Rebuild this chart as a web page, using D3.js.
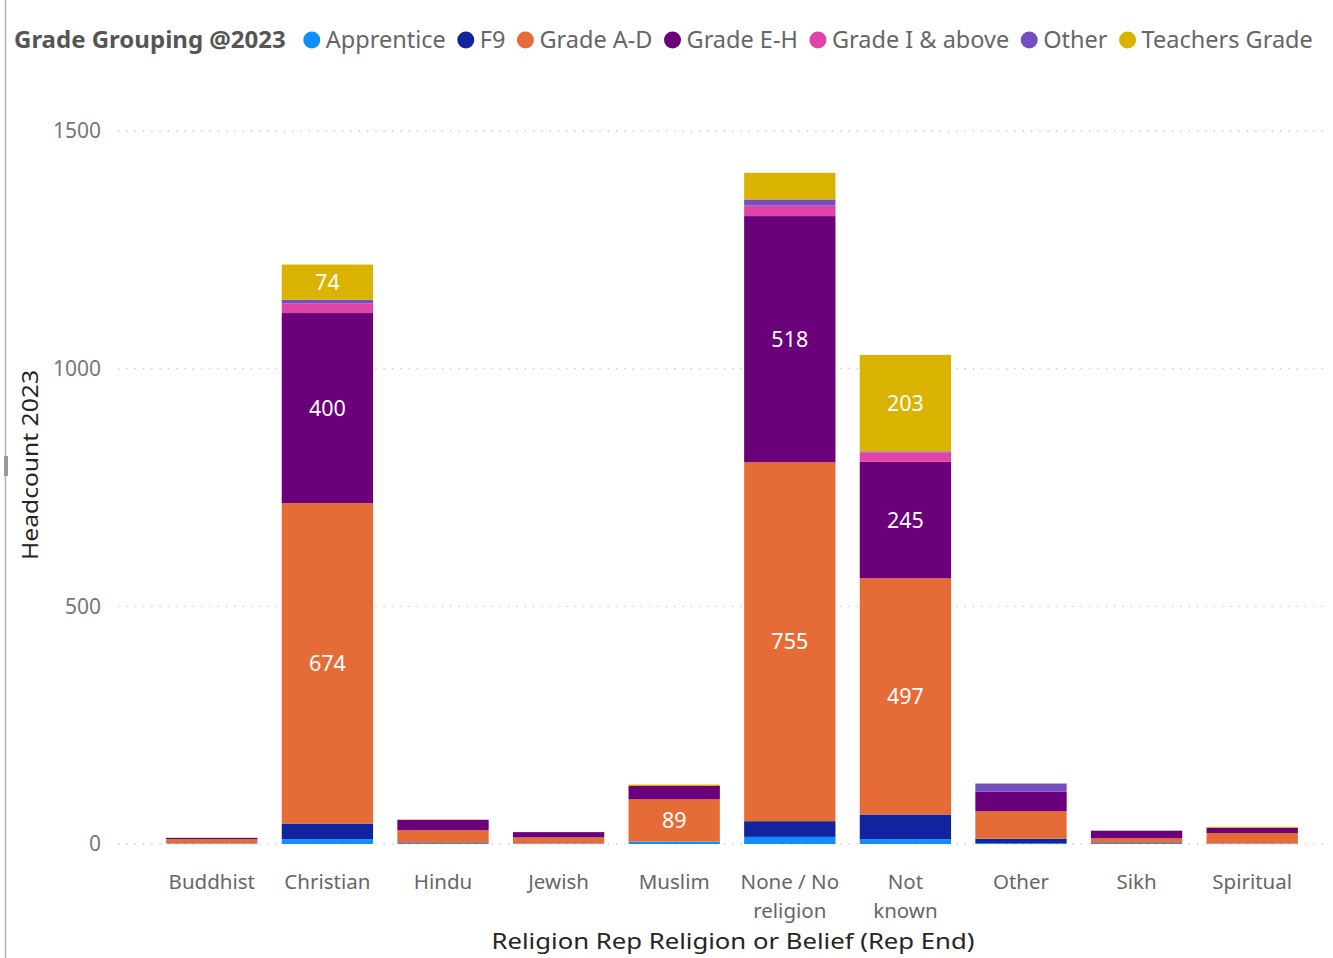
<!DOCTYPE html>
<html>
<head>
<meta charset="utf-8">
<script src="https://cdn.jsdelivr.net/npm/d3@7"></script>
<style>
  body { margin: 0; background: #fff; }
  text { font-family: "Segoe UI", "Noto Sans", sans-serif; }
</style>
</head>
<body>
<svg id="chart" width="1333" height="958"></svg>
<script>
// categories along the x axis
var religions = ["Buddhist", "Christian", "Hindu", "Jewish", "Muslim", "None / No religion", "Not known", "Other", "Sikh", "Spiritual"];
var religion_lines = [["Buddhist"], ["Christian"], ["Hindu"], ["Jewish"], ["Muslim"], ["None / No", "religion"], ["Not", "known"], ["Other"], ["Sikh"], ["Spiritual"]];

// series (stack order, bottom to top)
var grades = ["Apprentice", "F9", "Grade A-D", "Grade E-H", "Grade I & above", "Other", "Teachers Grade"];
var grade_colors = ["#118DFF", "#12239E", "#E66C37", "#6B007B", "#E044A7", "#744EC2", "#D9B300"];

// values per grade, one per religion
var apprentice = [1, 10, 2, 1, 5, 15, 10, 2, 2, 1];
var f9         = [0, 33, 0, 0, 0, 33, 52, 9, 0, 0];
var grade_ad   = [9, 674, 27, 13, 89, 755, 497, 58, 10, 22];
var grade_eh   = [3, 400, 22, 11, 28, 518, 245, 41, 16, 11];
var grade_i    = [0, 20, 0, 0, 0, 22, 20, 0, 0, 0];
var other      = [0, 8, 0, 0, 0, 13, 2, 17, 0, 0];
var teachers   = [0, 74, 0, 0, 3, 56, 203, 1, 0, 2];

var y_ticks = [0, 500, 1000, 1500];

var series_values = [apprentice, f9, grade_ad, grade_eh, grade_i, other, teachers];

var rows = religions.map(function(r, i) {
    var row = {religion: r, idx: i};
    grades.forEach(function(g, j) { row[g] = series_values[j][i]; });
    return row;
});

var svg = d3.select("#chart");

var x_scale = d3.scaleBand().domain(religions).range([154, 1310]).paddingInner(0.21).paddingOuter(0.105);
var y_scale = d3.scaleLinear().domain([0, 1500]).range([844, 131]);
var color_scale = d3.scaleOrdinal().domain(grades).range(grade_colors);

// left frame line
svg.append("line")
    .attr("x1", 5.5).attr("x2", 5.5).attr("y1", 0).attr("y2", 958)
    .attr("stroke", "#b3b3b3").attr("stroke-width", 1.5);
svg.append("rect")
    .attr("x", 4).attr("y", 456).attr("width", 4).attr("height", 20)
    .attr("fill", "#999");

// gridlines
svg.append("g")
    .selectAll("line")
    .data(y_ticks)
    .enter()
    .append("line")
    .attr("x1", 118).attr("x2", 1326)
    .attr("y1", function(d) { return y_scale(d); })
    .attr("y2", function(d) { return y_scale(d); })
    .attr("stroke", "#c8c8c8")
    .attr("stroke-width", 1.3)
    .attr("stroke-dasharray", "1.3,7");

// y tick labels
svg.append("g")
    .selectAll("text")
    .data(y_ticks)
    .enter()
    .append("text")
    .attr("x", 101)
    .attr("y", function(d) { return y_scale(d); })
    .attr("dy", "0.35em")
    .attr("text-anchor", "end")
    .attr("fill", "#777")
    .style("font-size", "21px")
    .text(function(d) { return d; });

// stacked bars
var stacked = d3.stack().keys(grades)(rows);

var layers = svg.append("g")
    .selectAll("g")
    .data(stacked)
    .enter()
    .append("g")
    .attr("fill", function(d) { return color_scale(d.key); });

layers.selectAll("rect")
    .data(function(d) { return d; })
    .enter()
    .append("rect")
    .attr("x", function(d) { return x_scale(d.data.religion); })
    .attr("y", function(d) { return y_scale(d[1]); })
    .attr("width", x_scale.bandwidth())
    .attr("height", function(d) { return Math.max(0, y_scale(d[0]) - y_scale(d[1])); });

// data labels for segments tall enough
var label_data = [];
stacked.forEach(function(layer) {
    layer.forEach(function(d) {
        var h = y_scale(d[0]) - y_scale(d[1]);
        if (h >= 30) label_data.push(d);
    });
});

svg.append("g")
    .selectAll("text")
    .data(label_data)
    .enter()
    .append("text")
    .attr("x", function(d) { return x_scale(d.data.religion) + x_scale.bandwidth() / 2; })
    .attr("y", function(d) { return (y_scale(d[0]) + y_scale(d[1])) / 2; })
    .attr("dy", "0.35em")
    .attr("text-anchor", "middle")
    .attr("fill", "#fff")
    .style("font-size", "21.5px")
    .text(function(d) { return d[1] - d[0]; });

// x category labels
var cat_labels = svg.append("g")
    .selectAll("text")
    .data(religions)
    .enter()
    .append("text")
    .attr("x", function(d) { return x_scale(d) + x_scale.bandwidth() / 2; })
    .attr("y", 882)
    .attr("text-anchor", "middle")
    .attr("fill", "#666")
    .style("font-size", "20.5px");

cat_labels.each(function(d, i) {
    var el = d3.select(this);
    religion_lines[i].forEach(function(line, k) {
        el.append("tspan")
            .attr("x", x_scale(d) + x_scale.bandwidth() / 2)
            .attr("y", 882 + k * 29)
            .attr("dy", "0.35em")
            .text(line);
    });
});

// axis titles (wider DIN-like face in the original, so pin the length)
svg.append("text")
    .attr("x", 733)
    .attr("y", 941)
    .attr("dy", "0.35em")
    .attr("text-anchor", "middle")
    .attr("fill", "#252423")
    .attr("textLength", 483)
    .attr("lengthAdjust", "spacingAndGlyphs")
    .style("font-size", "22px")
    .text("Religion Rep Religion or Belief (Rep End)");

svg.append("text")
    .attr("transform", "translate(30,465) rotate(-90)")
    .attr("dy", "0.35em")
    .attr("text-anchor", "middle")
    .attr("fill", "#252423")
    .attr("textLength", 190)
    .attr("lengthAdjust", "spacingAndGlyphs")
    .style("font-size", "22px")
    .text("Headcount 2023");

// legend
var legend = svg.append("g");
var legend_title = legend.append("text")
    .attr("x", 14)
    .attr("y", 40)
    .attr("dy", "0.35em")
    .attr("fill", "#555")
    .style("font-size", "24px")
    .style("font-weight", "bold")
    .text("Grade Grouping @2023");

var cursor = 14 + legend_title.node().getComputedTextLength() + 18;
grades.forEach(function(g, i) {
    legend.append("circle")
        .attr("cx", cursor + 8)
        .attr("cy", 40)
        .attr("r", 8.5)
        .attr("fill", grade_colors[i]);
    var t = legend.append("text")
        .attr("x", cursor + 8 + 14)
        .attr("y", 40)
        .attr("dy", "0.35em")
        .attr("fill", "#666")
        .style("font-size", "23.5px")
        .text(g);
    cursor = cursor + 22 + t.node().getComputedTextLength() + 12;
});
</script>
</body>
</html>
